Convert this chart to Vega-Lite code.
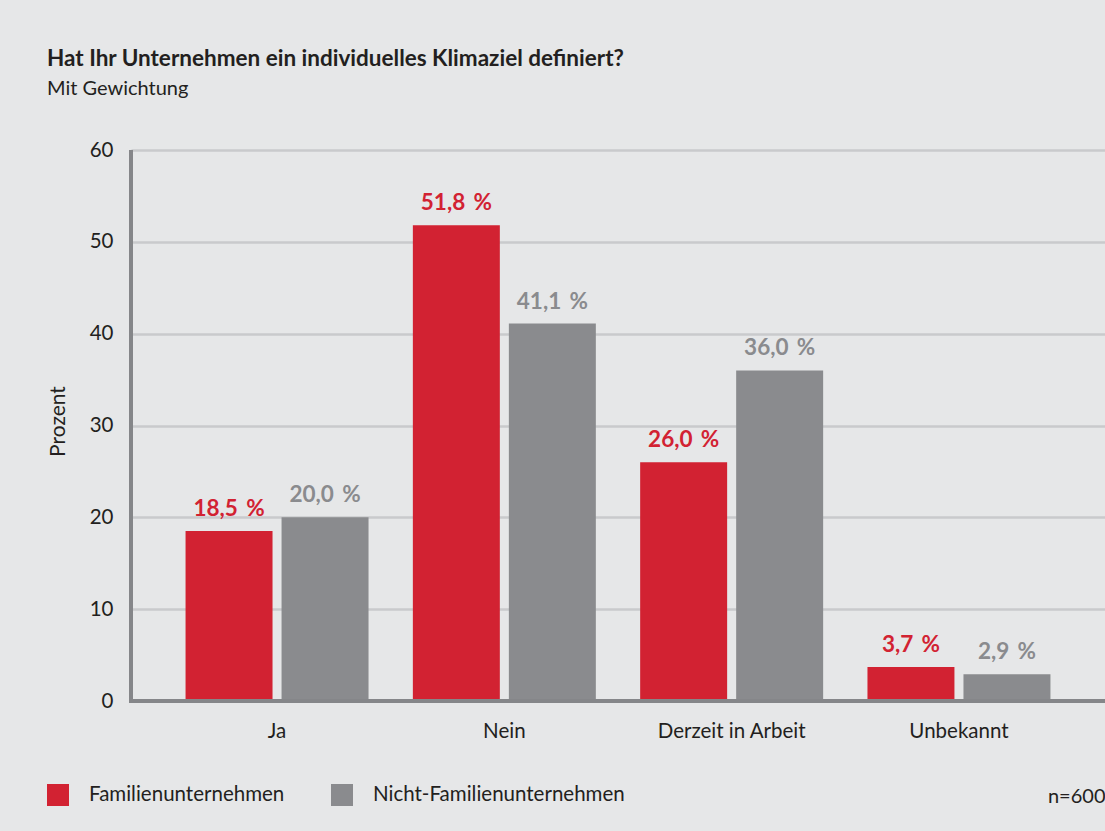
{
  "$schema": "https://vega.github.io/schema/vega-lite/v6.json",
  "width": 974,
  "height": 551,
  "autosize": {"type": "none"},
  "padding": {"left": 131, "top": 150, "right": 0, "bottom": 130},
  "background": "#e6e7e8",
  "title": {
    "text": "Hat Ihr Unternehmen ein individuelles Klimaziel definiert?",
    "subtitle": "Mit Gewichtung",
    "anchor": "start",
    "frame": "group",
    "dx": -84,
    "offset": 41,
    "font": "Lato",
    "fontSize": 22.5,
    "fontWeight": "bold",
    "color": "#231f20",
    "subtitleFont": "Lato",
    "subtitleFontSize": 20,
    "subtitleColor": "#231f20",
    "subtitlePadding": 9
  },
  "data": {
    "values": [
      {"antwort": "Ja", "gruppe": "Familienunternehmen", "wert": 18.5},
      {"antwort": "Ja", "gruppe": "Nicht-Familienunternehmen", "wert": 20.0},
      {"antwort": "Nein", "gruppe": "Familienunternehmen", "wert": 51.8},
      {"antwort": "Nein", "gruppe": "Nicht-Familienunternehmen", "wert": 41.1},
      {"antwort": "Derzeit in Arbeit", "gruppe": "Familienunternehmen", "wert": 26.0},
      {"antwort": "Derzeit in Arbeit", "gruppe": "Nicht-Familienunternehmen", "wert": 36.0},
      {"antwort": "Unbekannt", "gruppe": "Familienunternehmen", "wert": 3.7},
      {"antwort": "Unbekannt", "gruppe": "Nicht-Familienunternehmen", "wert": 2.9}
    ]
  },
  "encoding": {
    "x": {
      "field": "antwort",
      "type": "nominal",
      "sort": ["Ja", "Nein", "Derzeit in Arbeit", "Unbekannt"],
      "scale": {"paddingInner": 0.195, "paddingOuter": 0.24},
      "axis": {
        "title": "n=600",
        "titleAnchor": "end",
        "titleAlign": "right",
        "titleFont": "Lato",
        "titleFontSize": 20,
        "titleFontWeight": "normal",
        "titleColor": "#231f20",
        "titlePadding": 45,
        "labelAngle": 0,
        "labelFont": "Lato",
        "labelFontSize": 20.5,
        "labelColor": "#231f20",
        "labelPadding": 20,
        "ticks": false,
        "domain": false,
        "grid": false
      }
    },
    "xOffset": {
      "field": "gruppe",
      "type": "nominal",
      "scale": {"paddingInner": 0.094, "paddingOuter": 0}
    },
    "y": {
      "field": "wert",
      "type": "quantitative",
      "scale": {"domain": [0, 60]},
      "axis": {
        "title": "Prozent",
        "titleFont": "Lato",
        "titleFontSize": 21,
        "titleFontWeight": "normal",
        "titleColor": "#231f20",
        "titlePadding": 21,
        "titleY": 271,
        "values": [0, 10, 20, 30, 40, 50, 60],
        "labelFont": "Lato",
        "labelFontSize": 20.5,
        "labelColor": "#231f20",
        "labelPadding": 18,
        "ticks": false,
        "domain": false,
        "grid": true,
        "gridColor": "#c9cacc",
        "gridWidth": 2.5
      }
    },
    "color": {
      "field": "gruppe",
      "type": "nominal",
      "scale": {
        "domain": ["Familienunternehmen", "Nicht-Familienunternehmen"],
        "range": ["#d22232", "#8a8b8e"]
      },
      "legend": {
        "title": null,
        "orient": "none",
        "direction": "horizontal",
        "legendX": -84,
        "legendY": 634,
        "symbolType": "square",
        "symbolSize": 484,
        "symbolStrokeWidth": 0,
        "symbolOpacity": 1,
        "labelFont": "Lato",
        "labelFontSize": 20.5,
        "labelLimit": 0,
        "labelColor": "#231f20",
        "labelOffset": 20,
        "columnPadding": 46
      }
    }
  },
  "layer": [
    {"mark": {"type": "bar", "opacity": 1}},
    {
      "transform": [
        {"calculate": "replace(format(datum.wert, '.1f'), '.', ',') + '\u2009 %'", "as": "label"}
      ],
      "mark": {"type": "text", "baseline": "alphabetic", "dy": -15, "font": "Lato", "fontSize": 22.5, "fontWeight": "bold"},
      "encoding": {"text": {"field": "label"}}
    },
    {
      "mark": {"type": "rule", "color": "#858689", "strokeWidth": 4},
      "encoding": {"x": {"value": 0}, "y": {"value": 0}, "y2": {"value": 553}, "xOffset": null, "color": null}
    },
    {
      "mark": {"type": "rule", "color": "#858689", "strokeWidth": 4},
      "encoding": {"x": {"value": 0}, "x2": {"value": 974}, "y": {"datum": 0}, "xOffset": null, "color": null}
    }
  ],
  "config": {
    "view": {"stroke": null},
    "axis": {"labelOverlap": false}
  }
}
